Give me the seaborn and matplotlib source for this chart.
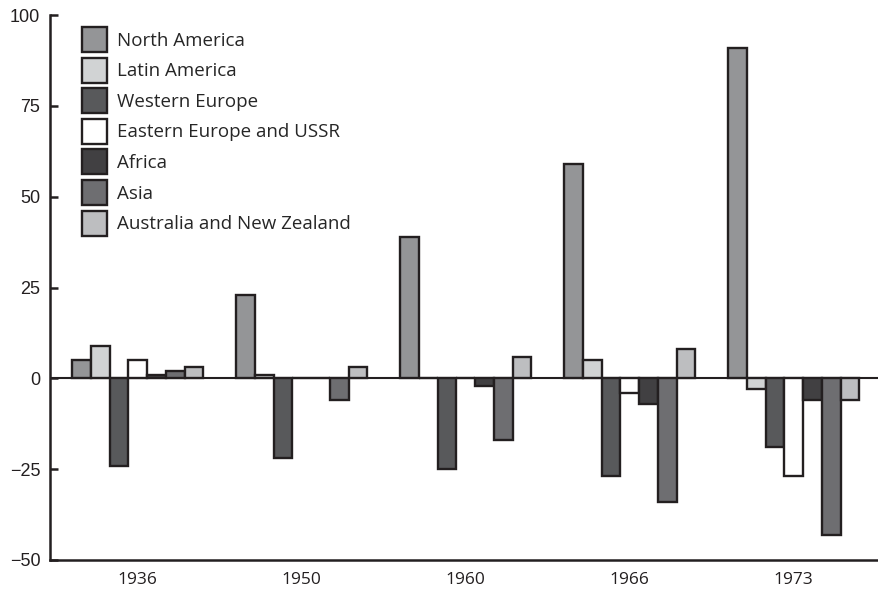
import pandas as pd
import matplotlib
matplotlib.use("Agg")
import matplotlib.pyplot as plt
import seaborn as sns

years = ["1936", "1950", "1960", "1966", "1973"]
regions = ["North America", "Latin America", "Western Europe",
           "Eastern Europe and USSR", "Africa", "Asia",
           "Australia and New Zealand"]

north_america = [5, 23, 39, 59, 91]
latin_america = [9, 1, 0, 5, -3]
western_europe = [-24, -22, -25, -27, -19]
eastern_europe = [5, 0, 0, -4, -27]
africa = [1, 0, -2, -7, -6]
asia = [2, -6, -17, -34, -43]
australia_nz = [3, 3, 6, 8, -6]

colors = ["#939598", "#d1d3d4", "#58595b", "#ffffff", "#414042", "#6d6e71", "#bcbec0"]

series = [north_america, latin_america, western_europe, eastern_europe,
          africa, asia, australia_nz]
rows = []
for reg, vals in zip(regions, series):
    for yr, v in zip(years, vals):
        rows.append({"year": yr, "region": reg, "value": v})
df = pd.DataFrame(rows)

sns.set_style("white")
plt.rcParams["font.family"] = ["Liberation Sans", "DejaVu Sans"]

fig = plt.figure(figsize=(8.79, 5.94), dpi=100)
ax = fig.add_axes([50 / 879, 1 - 560 / 594, 1 - 50 / 879, (560 - 15) / 594])

edge = "#231f20"
sns.barplot(data=df, x="year", y="value", hue="region", hue_order=regions,
            order=years, palette=colors, edgecolor=edge, linewidth=1.7,
            width=0.8, ax=ax, legend=True)

ax.axhline(0, color=edge, lw=1.5, zorder=0.5)
ax.set_ylim(-50, 100)
ax.set_xlim(-0.535, 4.52)
ax.set_yticks([-50, -25, 0, 25, 50, 75, 100])
ax.set_xlabel("")
ax.set_ylabel("")

for s in ["top", "right"]:
    ax.spines[s].set_visible(False)
for s in ["left", "bottom"]:
    ax.spines[s].set_color(edge)
    ax.spines[s].set_linewidth(1.8)

ax.tick_params(axis="y", left=True, direction="in", length=6, width=1.8, color=edge,
               labelsize=13, pad=7, labelcolor="#231f20")
ax.tick_params(axis="x", bottom=False, length=0, pad=9, labelcolor="#231f20")
for lab in ax.get_xticklabels():
    lab.set_fontfamily(["Open Sans", "DejaVu Sans"])
    lab.set_fontsize(12.5)

handles, labels = ax.get_legend_handles_labels()
ax.legend(handles, labels, loc="upper left", bbox_to_anchor=(0.0386, 0.978),
          frameon=False, borderpad=0, borderaxespad=0,
          handlelength=1.333, handleheight=1.674,
          labelspacing=0.30, handletextpad=0.53,
          prop={"family": ["Open Sans", "DejaVu Sans"], "size": 13.5})

fig.savefig("out.png", dpi=100)
